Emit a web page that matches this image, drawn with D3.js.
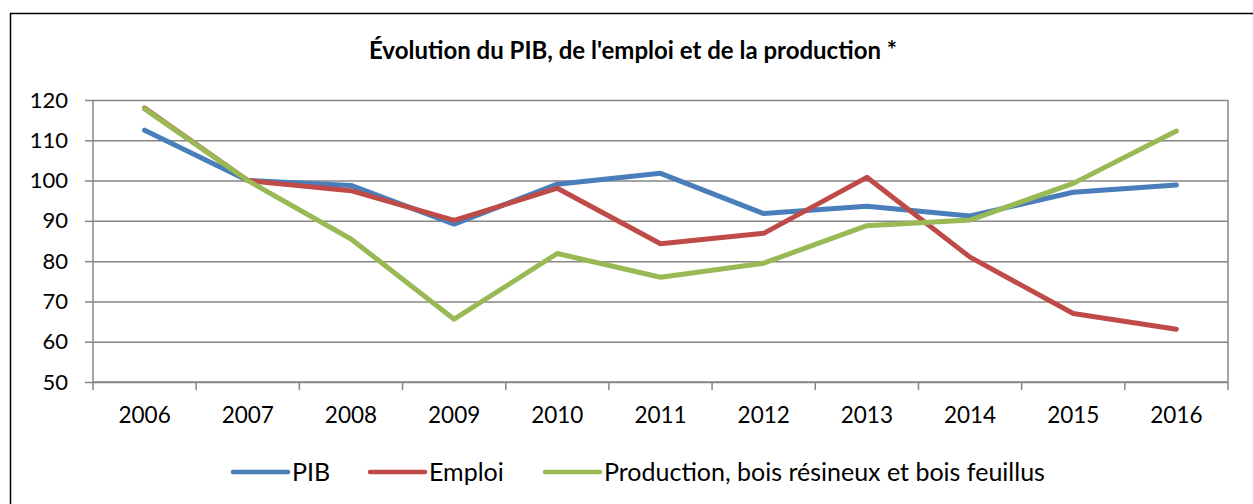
<!DOCTYPE html>
<html>
<head>
<meta charset="utf-8">
<script src="https://cdn.jsdelivr.net/npm/d3@7"></script>
<style>
  html, body { margin: 0; padding: 0; background: #fff; }
  svg { display: block; font-family: Lato, 'Open Sans', sans-serif; }
</style>
</head>
<body>
<div id="chart"></div>
<script>
const years = ['2006', '2007', '2008', '2009', '2010', '2011', '2012', '2013', '2014', '2015', '2016'];
const pib = [112.5, 100, 98.8, 89.2, 99.1, 101.8, 91.8, 93.6, 91.2, 97.1, 98.9];
const emploi = [118, 100, 97.5, 90.1, 98.1, 84.3, 86.9, 100.8, 81, 67, 63.1];
const production = [117.8, 100, 85.5, 65.6, 81.9, 76, 79.5, 88.8, 90.2, 99.3, 112.3];
const yTicks = [50, 60, 70, 80, 90, 100, 110, 120];

const series = [
  { name: 'PIB', values: pib, color: '#4A7EBB' },
  { name: 'Emploi', values: emploi, color: '#BE4B48' },
  { name: 'Production, bois résineux et bois feuillus', values: production, color: '#98B954' }
];

const W = 1253, H = 504;
const margin = { top: 100, right: 25, bottom: 122, left: 93 };
const width = W - margin.left - margin.right;
const height = H - margin.top - margin.bottom;

const svg = d3.select('#chart').append('svg')
  .attr('width', W)
  .attr('height', H);

// outer frame
svg.append('rect')
  .attr('x', 10.5).attr('y', 13.5)
  .attr('width', W + 20).attr('height', H + 20)
  .attr('fill', 'none')
  .attr('stroke', '#000')
  .attr('stroke-width', 1.5);

svg.append('text')
  .attr('x', 633)
  .attr('y', 59)
  .attr('text-anchor', 'middle')
  .attr('font-size', 24)
  .attr('font-weight', 700)
  .attr('fill', '#000')
  .text("Évolution du PIB, de l'emploi et de la production *");

const g = svg.append('g')
  .attr('transform', `translate(${margin.left},${margin.top})`);

const x = d3.scaleBand()
  .domain(years)
  .range([0, width]);

const y = d3.scaleLinear()
  .domain([50, 120])
  .range([height, 0]);

// horizontal grid
g.append('g')
  .attr('class', 'grid')
  .call(d3.axisLeft(y).tickValues(yTicks).tickSize(-width).tickFormat(''))
  .call(s => s.select('.domain').remove())
  .selectAll('line')
  .attr('stroke', '#868686')
  .attr('stroke-width', 1.5);

// right border of the plot area
g.append('line')
  .attr('x1', width).attr('x2', width)
  .attr('y1', 0).attr('y2', height)
  .attr('stroke', '#868686')
  .attr('stroke-width', 1.5);

// y axis
const yAxis = g.append('g')
  .call(d3.axisLeft(y).tickValues(yTicks).tickSize(8).tickPadding(17));
yAxis.select('.domain')
  .attr('stroke', '#868686')
  .attr('stroke-width', 1.5)
  .attr('d', `M0,0V${height}`);
yAxis.selectAll('.tick line').attr('stroke', '#868686').attr('stroke-width', 1.5);
yAxis.selectAll('text')
  .attr('font-size', 22)
  .attr('font-family', 'Lato, sans-serif')
  .attr('fill', '#000');

// x axis, ticks on category boundaries
const xAxis = g.append('g')
  .attr('transform', `translate(0,${height})`);
xAxis.append('line')
  .attr('x1', 0).attr('x2', width)
  .attr('stroke', '#868686')
  .attr('stroke-width', 1.5);
xAxis.selectAll('.xtick')
  .data(years.concat(['end']))
  .join('line')
  .attr('class', 'xtick')
  .attr('x1', d => d === 'end' ? width : x(d))
  .attr('x2', d => d === 'end' ? width : x(d))
  .attr('y1', 0).attr('y2', 8)
  .attr('stroke', '#868686')
  .attr('stroke-width', 1.5);
xAxis.selectAll('.xlabel')
  .data(years)
  .join('text')
  .attr('class', 'xlabel')
  .attr('x', d => x(d) + x.bandwidth() / 2)
  .attr('y', 41)
  .attr('text-anchor', 'middle')
  .attr('font-size', 22.5)
  .attr('fill', '#000')
  .text(d => d);

const line = d3.line()
  .x((d, i) => x(years[i]) + x.bandwidth() / 2)
  .y(d => y(d));

g.selectAll('.series')
  .data(series)
  .join('path')
  .attr('class', 'series')
  .attr('d', d => line(d.values))
  .attr('fill', 'none')
  .attr('stroke', d => d.color)
  .attr('stroke-width', 5)
  .attr('stroke-linecap', 'round')
  .attr('stroke-linejoin', 'round');

// legend
const legendPos = [233, 370, 545];
const legend = svg.append('g')
  .attr('transform', 'translate(0,472)');
const items = legend.selectAll('.item')
  .data(series)
  .join('g')
  .attr('class', 'item')
  .attr('transform', (d, i) => `translate(${legendPos[i]},0)`);
items.append('line')
  .attr('x1', 0).attr('x2', 55)
  .attr('stroke', d => d.color)
  .attr('stroke-width', 4.5)
  .attr('stroke-linecap', 'round');
items.append('text')
  .attr('x', 59)
  .attr('y', 9)
  .attr('font-size', 25)
  .attr('fill', '#000')
  .text(d => d.name);
</script>
</body>
</html>
